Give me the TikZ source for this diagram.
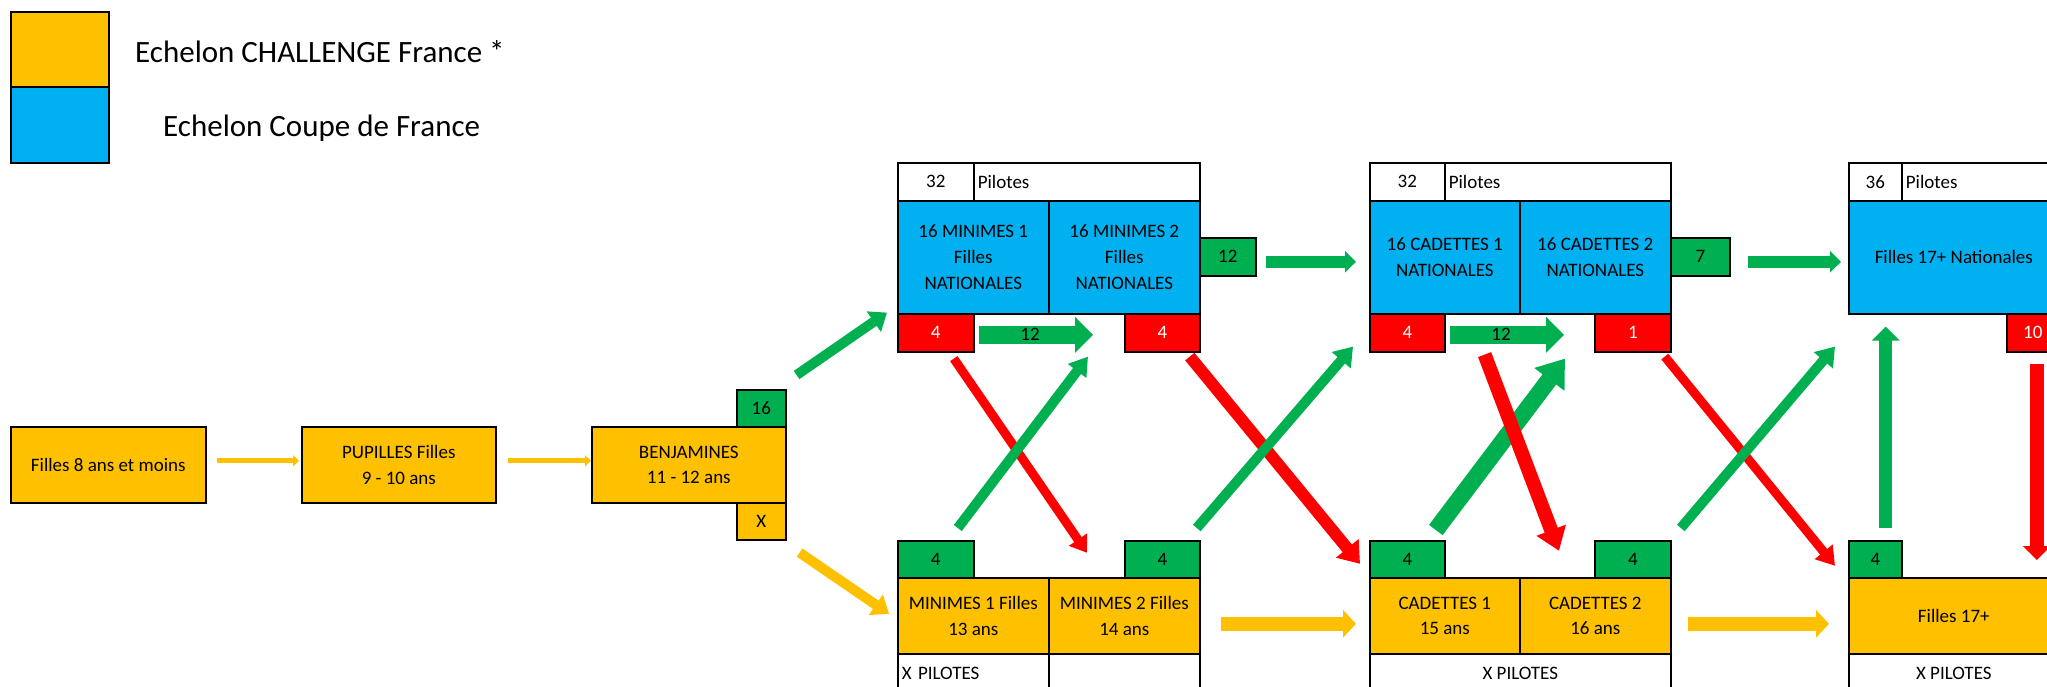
\documentclass[tikz,border=0pt]{standalone}
\usepackage{fontspec}
\setmainfont{Carlito}
\usepackage{tikz}
\usetikzlibrary{arrows.meta}

\definecolor{cor}{HTML}{FFC000}
\definecolor{cbl}{HTML}{00B0F0}
\definecolor{cgr}{HTML}{00B050}
\definecolor{crd}{HTML}{FF0000}
\newcommand{\bx}{\fontsize{19}{25.7}\selectfont}
\newcommand{\legfont}{\fontsize{31}{37}\selectfont}

\begin{document}
\begin{tikzpicture}[x=1pt,y=-1pt,
    cell/.style 2 args={draw,line width=1.6pt,anchor=north west,inner sep=0pt,
      align=center,font=\bx,minimum width=#1pt,minimum height=#2pt},
    lft/.style={align=left,text width=#1pt,inner xsep=4pt},
    fat/.style n args={3}{line width=#1pt,-{Triangle[width=#2pt,length=#3pt]}}]

  \useasboundingbox (0,0) rectangle (2047,687);
  \clip (0,0) rectangle (2047,687);

  % legend
  \node[cell={98}{75},fill=cor] (legOr) at (10,11) {};
  \node[cell={98}{76},fill=cbl] (legBl) at (10,86) {};
  \node[anchor=base west,font=\legfont,inner sep=0pt] (legT1) at (135,63) {Echelon CHALLENGE France *};
  \node[anchor=base west,font=\legfont,inner sep=0pt] (legT2) at (163,137) {Echelon Coupe de France};

  % jeunes
  \node[cell={195}{76},fill=cor] (fil8) at (10,426) {Filles 8 ans et moins};
  \node[cell={194}{76},fill=cor] (pup) at (301,426) {PUPILLES Filles\\9 - 10 ans};
  \node[cell={194}{76},fill=cor] (benj) at (591,426) {BENJAMINES\\11 - 12 ans};
  \node[cell={49}{37},fill=cgr] (benjG) at (736,389) {16};
  \node[cell={49}{37},fill=cor] (benjX) at (736,502) {X};

  % minimes
  \node[cell={76}{38}] (m32) at (897,162) {32};
  \node[cell={226}{38},lft={218}] (mPil) at (973,162) {Pilotes};
  \node[cell={151}{113},fill=cbl] (m1N) at (897,200) {16 MINIMES 1\\Filles\\NATIONALES};
  \node[cell={151}{113},fill=cbl] (m2N) at (1048,200) {16 MINIMES 2\\Filles\\NATIONALES};
  \node[cell={76}{38},fill=crd,text=white] (m1R) at (897,313) {4};
  \node[cell={75}{38},fill=crd,text=white] (m2R) at (1124,313) {4};
  \node[cell={56}{38},fill=cgr] (mG12) at (1199,237) {12};
  \node[cell={76}{37},fill=cgr] (m1G) at (897,540) {4};
  \node[cell={75}{37},fill=cgr] (m2G) at (1124,540) {4};
  \node[cell={151}{76},fill=cor] (m1C) at (897,577) {MINIMES 1 Filles\\13 ans};
  \node[cell={151}{76},fill=cor] (m2C) at (1048,577) {MINIMES 2 Filles\\14 ans};
  \node[cell={151}{40},lft={143}] (m1P) at (897,653) {X PILOTES};
  \node[cell={151}{40}] (m2P) at (1048,653) {};

  % cadettes
  \node[cell={75}{38}] (c32) at (1369,162) {32};
  \node[cell={226}{38},lft={218}] (cPil) at (1444,162) {Pilotes};
  \node[cell={150}{113},fill=cbl] (c1N) at (1369,200) {16 CADETTES 1\\NATIONALES};
  \node[cell={151}{113},fill=cbl] (c2N) at (1519,200) {16 CADETTES 2\\NATIONALES};
  \node[cell={75}{38},fill=crd,text=white] (c1R) at (1369,313) {4};
  \node[cell={76}{38},fill=crd,text=white] (c2R) at (1594,313) {1};
  \node[cell={59}{38},fill=cgr] (cG7) at (1670,237) {7};
  \node[cell={75}{37},fill=cgr] (c1G) at (1369,540) {4};
  \node[cell={76}{37},fill=cgr] (c2G) at (1594,540) {4};
  \node[cell={150}{76},fill=cor] (c1C) at (1369,577) {CADETTES 1\\15 ans};
  \node[cell={151}{76},fill=cor] (c2C) at (1519,577) {CADETTES 2\\16 ans};
  \node[cell={301}{40}] (cP) at (1369,653) {X PILOTES};

  % filles 17+
  \node[cell={53}{38}] (f36) at (1848,162) {36};
  \node[cell={157}{38},lft={149}] (fPil) at (1901,162) {Pilotes};
  \node[cell={210}{113},fill=cbl] (fN) at (1848,200) {Filles 17+ Nationales};
  \node[cell={52}{38},fill=crd,text=white] (fR) at (2006,313) {10};
  \node[cell={53}{37},fill=cgr] (fG) at (1848,540) {4};
  \node[cell={210}{76},fill=cor] (fC) at (1848,577) {Filles 17+};
  \node[cell={210}{40}] (fP) at (1848,653) {X PILOTES};

  % fleches
  \draw[fat={5}{11}{6},cor] ([shift={(10,-4)}]fil8.east) -- ([shift={(-2,-4)}]pup.west);
  \draw[fat={5}{11}{6},cor] ([shift={(11,-4)}]pup.east) -- ([shift={(0,-4)}]benj.west);
  \draw[fat={10}{24}{16},cgr] ([shift={(10,-14)}]benjG.north east) -- ([shift={(-10,-2)}]m1N.south west);
  \draw[fat={10}{24}{16},cor] ([shift={(13,12)}]benjX.south east) -- ([shift={(-8,-2)}]m1C.west);

  \draw[fat={18}{35}{18},cgr] ([shift={(4,2)}]m1R.east) -- node[pos=0.45,font=\bx,text=black]{12} ([shift={(-31,2)}]m2R.west);
  \draw[fat={12}{21}{11},cgr] ([shift={(9,5)}]mG12.east) -- ([shift={(-13,4.5)}]c1N.west);
  \draw[fat={14}{27}{13},cor] ([shift={(20,8)}]m2C.east) -- ([shift={(-13,8)}]c1C.west);
  \draw[fat={9}{21}{16},crd] ([shift={(18,6)}]m1R.south) -- ([shift={(-37,-6.5)}]m2G.west);
  \draw[fat={10}{22}{18},cgr] ([shift={(22,-12)}]m1G.north) -- ([shift={(-36,4)}]m2R.south west);
  \draw[fat={12}{28}{20},crd] ([shift={(27.5,4)}]m2R.south) -- ([shift={(-9,4.5)}]c1G.west);
  \draw[fat={10}{24}{18},cgr] ([shift={(34.5,-12)}]m2G.north) -- ([shift={(-16,-6)}]c1R.south west);

  \draw[fat={18}{35}{18},cgr] ([shift={(4,2)}]c1R.east) -- node[pos=0.45,font=\bx,text=black]{12} ([shift={(-30,2)}]c2R.west);
  \draw[fat={12}{21}{11},cgr] ([shift={(17,5)}]cG7.east) -- ([shift={(-7,4.5)}]fN.west);
  \draw[fat={14}{27}{13},cor] ([shift={(16,8)}]c2C.east) -- ([shift={(-19,8)}]fC.west);
  \draw[fat={17}{36}{26},cgr] ([shift={(28.5,-10)}]c1G.north) -- ([shift={(-29,6)}]c2R.south west);
  \draw[fat={14}{30}{22},crd] ([shift={(39,2)}]c1R.south east) -- ([shift={(-35,-8.5)}]c2G.west);
  \draw[fat={9}{22}{18},crd] ([shift={(32,4)}]c2R.south) -- ([shift={(-13,6.5)}]fG.west);
  \draw[fat={10}{24}{18},cgr] ([shift={(48,-12)}]c2G.north) -- ([shift={(-13,32)}]fN.south west);

  \draw[fat={13}{27}{14},cgr] ([shift={(10.5,-12)}]fG.north) -- ([shift={(-68,12)}]fN.south);
  \draw[fat={14}{27}{14},crd] ([shift={(4,11)}]fR.south) -- ([shift={(83,-17)}]fC.north);
\end{tikzpicture}
\end{document}
